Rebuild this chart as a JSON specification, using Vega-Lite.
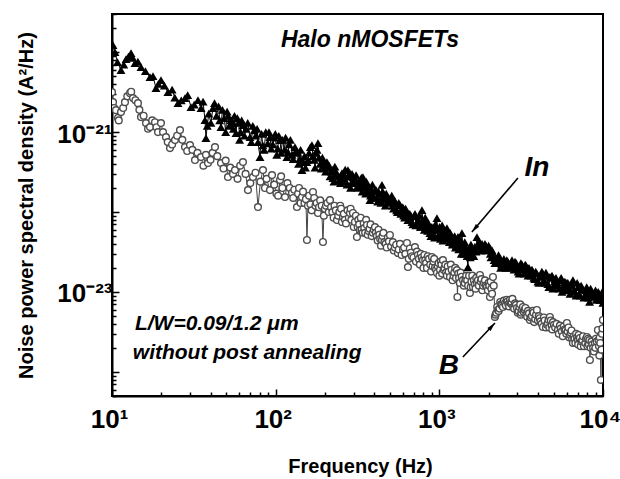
{
  "$schema": "https://vega.github.io/schema/vega-lite/v6.json",
  "width": 491,
  "height": 382,
  "autosize": {"type": "none"},
  "padding": {"left": 112, "top": 14, "right": 17, "bottom": 83},
  "background": "white",
  "config": {"view": {"stroke": "black", "strokeWidth": 2}, "font": "Liberation Sans"},
  "datasets": {
    "In": [
      {"f":10.14,"p":1.22e-20},{"f":10.43,"p":1.0e-20},{"f":10.8,"p":7.5e-21},{"f":11.35,"p":5.96e-21},{"f":11.8,"p":7.0e-21},{"f":12.18,"p":8.18e-21},{"f":12.6,"p":8.8e-21},{"f":13.07,"p":9.72e-21},{"f":13.4,"p":8.5e-21},{"f":13.82,"p":7.29e-21},{"f":14.4,"p":7.6e-21},{"f":15.04,"p":6.49e-21},{"f":16.0,"p":5.8e-21},{"f":17.07,"p":4.87e-21},{"f":17.8,"p":5.0e-21},{"f":18.57,"p":3.55e-21},{"f":19.2,"p":4.0e-21},{"f":19.92,"p":4.47e-21},{"f":20.9,"p":3.8e-21},{"f":21.98,"p":3.16e-21},{"f":23.3,"p":3.4e-21},{"f":24.2,"p":2.7e-21},{"f":25.31,"p":2.3e-21},{"f":26.5,"p":2.5e-21},{"f":27.92,"p":2.66e-21},{"f":29.0,"p":2.9e-21},{"f":30.38,"p":2.05e-21},{"f":31.8,"p":2.2e-21},{"f":33.52,"p":2.51e-21},{"f":35.0,"p":2.0e-21},{"f":36,"p":2.4e-21},{"f":37.0,"p":1.41e-21},{"f":37.5,"p":8.4e-22},{"f":38.2,"p":1.2e-21},{"f":39.0,"p":1.7e-21},{"f":40.2,"p":1.3e-21},{"f":41.4,"p":2.0e-21},{"f":42.3,"p":2.3e-21},{"f":43.5,"p":1.6e-21},{"f":44.8,"p":2.1e-21},{"f":45.5,"p":1.4e-21},{"f":46.33,"p":1.155e-21},{"f":47.3,"p":1.9e-21},{"f":48.5,"p":1.5e-21},{"f":49.5,"p":1.0e-21},{"f":50.5,"p":1.8e-21},{"f":51.2,"p":1.6e-21},{"f":52.0,"p":1.2e-21},{"f":53.33,"p":1.41e-21},{"f":54.86,"p":1.296e-21},{"f":55.2,"p":1.1e-21},{"f":56.0,"p":1.6e-21},{"f":57.22,"p":9.72e-22},{"f":58.3,"p":1.5e-21},{"f":59.5,"p":1.3e-21},{"f":60.2,"p":8.0e-22},{"f":61.0,"p":1.0e-21},{"f":62,"p":1.4e-21},{"f":63.13,"p":1.223e-21},{"f":64.5,"p":9.0e-22},{"f":66.0,"p":1.1e-21},{"f":67.5,"p":1.3e-21},{"f":69.66,"p":8.66e-22},{"f":71,"p":7.5e-22},{"f":72.5,"p":1.2e-21},{"f":74,"p":1.05e-21},{"f":75.5,"p":9.0e-22},{"f":77,"p":1.1e-21},{"f":78.0,"p":7.5e-22},{"f":80.19,"p":4.87e-22},{"f":82,"p":9.5e-22},{"f":83.5,"p":6.8e-22},{"f":85,"p":6.0e-22},{"f":87.0,"p":1.0e-21},{"f":89.5,"p":7.2e-22},{"f":91,"p":1.0e-21},{"f":92.31,"p":8.66e-22},{"f":94,"p":6.2e-22},{"f":96.0,"p":7.0e-22},{"f":98,"p":8.5e-22},{"f":99.5,"p":9.5e-22},{"f":101.5,"p":5.2e-22},{"f":103,"p":6.2e-22},{"f":104.5,"p":9.0e-22},{"f":106.3,"p":7.94e-22},{"f":108,"p":5.5e-22},{"f":110,"p":8.0e-22},{"f":113,"p":6.0e-22},{"f":115,"p":8.5e-22},{"f":117.2,"p":4.87e-22},{"f":119,"p":5.6e-22},{"f":121,"p":7.0e-22},{"f":123,"p":8.0e-22},{"f":126,"p":5.2e-22},{"f":128,"p":4.6e-22},{"f":131.2,"p":6.49e-22},{"f":133,"p":5.8e-22},{"f":136,"p":5.5e-22},{"f":138,"p":4.0e-22},{"f":140,"p":4.6e-22},{"f":142,"p":6.0e-22},{"f":144.8,"p":3.35e-22},{"f":147,"p":4.2e-22},{"f":150,"p":5.0e-22},{"f":152,"p":3.6e-22},{"f":155,"p":4.2e-22},{"f":158,"p":4.5e-22},{"f":160,"p":5.5e-22},{"f":163,"p":6.5e-22},{"f":166.6,"p":6.88e-22},{"f":169,"p":5.0e-22},{"f":172,"p":4.5e-22},{"f":174,"p":3.6e-22},{"f":176,"p":5.5e-22},{"f":179,"p":6.0e-22},{"f":181.3,"p":7.29e-22},{"f":184,"p":4.8e-22},{"f":187,"p":4.0e-22},{"f":190,"p":3.5e-22},{"f":193,"p":4.8e-22},{"f":196,"p":4.2e-22},{"f":199,"p":3.6e-22},{"f":202,"p":3.2e-22},{"f":205.8,"p":4.22e-22},{"f":209,"p":3.6e-22},{"f":212,"p":3.8e-22},{"f":215,"p":2.8e-22},{"f":218,"p":3.2e-22},{"f":221,"p":3.4e-22},{"f":223.9,"p":2.66e-22},{"f":227,"p":2.4e-22},{"f":230,"p":3.7e-22},{"f":233,"p":3.2e-22},{"f":237,"p":3.0e-22},{"f":241,"p":2.8e-22},{"f":245,"p":2.5e-22},{"f":249,"p":2.3e-22},{"f":254.1,"p":3.07e-22},{"f":258,"p":2.6e-22},{"f":262,"p":2.9e-22},{"f":266,"p":3.4e-22},{"f":269,"p":2.4e-22},{"f":273,"p":2.2e-22},{"f":276.4,"p":3.35e-22},{"f":280,"p":2.8e-22},{"f":283,"p":3.1e-22},{"f":287,"p":2.0e-22},{"f":290,"p":2.3e-22},{"f":293,"p":3.0e-22},{"f":296.6,"p":2.74e-22},{"f":300,"p":2.3e-22},{"f":305,"p":2.6e-22},{"f":310,"p":2.9e-22},{"f":313.7,"p":2.05e-22},{"f":317,"p":2.0e-22},{"f":320,"p":2.4e-22},{"f":327,"p":2.1e-22},{"f":330,"p":2.3e-22},{"f":334,"p":2.7e-22},{"f":338,"p":1.8e-22},{"f":341.5,"p":2.74e-22},{"f":345,"p":2.3e-22},{"f":350,"p":2.0e-22},{"f":355,"p":1.7e-22},{"f":358,"p":2.4e-22},{"f":362,"p":2.2e-22},{"f":367,"p":1.8e-22},{"f":372,"p":1.9e-22},{"f":376.7,"p":1.41e-22},{"f":380,"p":1.6e-22},{"f":385,"p":1.9e-22},{"f":390,"p":2.2e-22},{"f":394,"p":1.6e-22},{"f":399,"p":1.5e-22},{"f":404.3,"p":1.88e-22},{"f":410,"p":1.9e-22},{"f":415,"p":1.5e-22},{"f":420,"p":1.35e-22},{"f":425,"p":1.8e-22},{"f":430,"p":1.7e-22},{"f":435,"p":1.4e-22},{"f":440,"p":1.3e-22},{"f":446,"p":2.18e-22},{"f":451,"p":1.8e-22},{"f":457,"p":1.6e-22},{"f":462,"p":1.45e-22},{"f":468,"p":1.2e-22},{"f":474,"p":1.7e-22},{"f":480,"p":1.5e-22},{"f":488,"p":1.3e-22},{"f":499,"p":1.33e-22},{"f":505,"p":1.45e-22},{"f":512,"p":1.6e-22},{"f":518,"p":1.2e-22},{"f":525,"p":1.1e-22},{"f":532,"p":1.4e-22},{"f":540,"p":1.3e-22},{"f":548,"p":1.05e-22},{"f":555,"p":1.0e-22},{"f":565,"p":1.3e-22},{"f":574.5,"p":1.22e-22},{"f":582,"p":9.5e-23},{"f":590,"p":1.05e-22},{"f":598,"p":1.15e-22},{"f":605,"p":9.0e-23},{"f":614,"p":8.5e-23},{"f":622,"p":1.1e-22},{"f":632,"p":1.0e-22},{"f":642.9,"p":7.94e-23},{"f":651,"p":8.0e-23},{"f":660,"p":9.5e-23},{"f":670,"p":9.0e-23},{"f":680,"p":7.5e-23},{"f":690,"p":7.0e-23},{"f":700,"p":8.8e-23},{"f":710,"p":9.5e-23},{"f":720,"p":6.8e-23},{"f":730,"p":7.5e-23},{"f":745,"p":8.0e-23},{"f":755,"p":9.0e-23},{"f":765,"p":6.5e-23},{"f":775,"p":6.5e-23},{"f":783.1,"p":1.06e-22},{"f":792,"p":8.0e-23},{"f":800,"p":7.0e-23},{"f":810,"p":6.0e-23},{"f":820,"p":8.5e-23},{"f":830,"p":7.5e-23},{"f":840,"p":6.2e-23},{"f":848,"p":5.8e-23},{"f":858,"p":7.2e-23},{"f":867,"p":6.8e-23},{"f":876.2,"p":5.46e-23},{"f":888,"p":5.0e-23},{"f":900,"p":6.5e-23},{"f":912,"p":6.0e-23},{"f":925,"p":5.2e-23},{"f":935,"p":4.8e-23},{"f":945,"p":7.0e-23},{"f":955,"p":6.2e-23},{"f":966.8,"p":8.41e-23},{"f":978,"p":5.0e-23},{"f":990,"p":6.0e-23},{"f":1003,"p":6.5e-23},{"f":1015,"p":4.6e-23},{"f":1027,"p":5.4e-23},{"f":1040,"p":6.8e-23},{"f":1052,"p":4.4e-23},{"f":1065,"p":5.0e-23},{"f":1078,"p":6.0e-23},{"f":1090,"p":5.8e-23},{"f":1102,"p":4.6e-23},{"f":1113,"p":6.31e-23},{"f":1127,"p":5.2e-23},{"f":1140,"p":4.8e-23},{"f":1152,"p":4.2e-23},{"f":1165,"p":5.5e-23},{"f":1178,"p":5.0e-23},{"f":1190,"p":4.5e-23},{"f":1200,"p":3.9e-23},{"f":1211,"p":4.1e-23},{"f":1225,"p":4.6e-23},{"f":1240,"p":5.0e-23},{"f":1255,"p":3.6e-23},{"f":1270,"p":3.8e-23},{"f":1285,"p":4.4e-23},{"f":1300,"p":4.9e-23},{"f":1315,"p":3.4e-23},{"f":1330,"p":3.6e-23},{"f":1340,"p":3.9e-23},{"f":1350,"p":4.4e-23},{"f":1362,"p":3.0e-23},{"f":1374,"p":5.46e-23},{"f":1387,"p":4.0e-23},{"f":1400,"p":3.5e-23},{"f":1415,"p":3.0e-23},{"f":1430,"p":4.2e-23},{"f":1445,"p":3.7e-23},{"f":1460,"p":3.2e-23},{"f":1478,"p":2.8e-23},{"f":1495,"p":2.05e-23},{"f":1512,"p":3.4e-23},{"f":1530,"p":3.0e-23},{"f":1545,"p":2.7e-23},{"f":1560,"p":3.9e-23},{"f":1580,"p":3.3e-23},{"f":1604,"p":3.35e-23},{"f":1625,"p":2.8e-23},{"f":1650,"p":3.7e-23},{"f":1675,"p":3.2e-23},{"f":1697,"p":4.87e-23},{"f":1720,"p":3.7e-23},{"f":1750,"p":4.2e-23},{"f":1775,"p":3.3e-23},{"f":1800,"p":3.9e-23},{"f":1825,"p":4.0e-23},{"f":1847,"p":3.65e-23},{"f":1875,"p":3.4e-23},{"f":1900,"p":4.0e-23},{"f":1925,"p":3.8e-23},{"f":1950,"p":3.3e-23},{"f":1975,"p":3.5e-23},{"f":2000,"p":3.8e-23},{"f":2025,"p":3.6e-23},{"f":2050,"p":3.0e-23},{"f":2070,"p":2.7e-23},{"f":2096,"p":3.35e-23},{"f":2118,"p":3.1e-23},{"f":2140,"p":2.8e-23},{"f":2160,"p":2.5e-23},{"f":2186,"p":2.3e-23},{"f":2215,"p":2.5e-23},{"f":2250,"p":2.6e-23},{"f":2275,"p":2.3e-23},{"f":2300,"p":2.9e-23},{"f":2325,"p":2.7e-23},{"f":2346,"p":2.37e-23},{"f":2370,"p":2.0e-23},{"f":2400,"p":2.2e-23},{"f":2440,"p":2.4e-23},{"f":2480,"p":2.6e-23},{"f":2515,"p":2.2e-23},{"f":2550,"p":2.0e-23},{"f":2585,"p":2.5e-23},{"f":2620,"p":2.4e-23},{"f":2660,"p":2.0e-23},{"f":2700,"p":2.18e-23},{"f":2740,"p":2.3e-23},{"f":2780,"p":2.5e-23},{"f":2820,"p":2.1e-23},{"f":2860,"p":1.9e-23},{"f":2900,"p":2.4e-23},{"f":2950,"p":2.3e-23},{"f":2990,"p":2.0e-23},{"f":3030,"p":1.8e-23},{"f":3070,"p":1.7e-23},{"f":3107,"p":2.05e-23},{"f":3150,"p":2.3e-23},{"f":3200,"p":2.2e-23},{"f":3250,"p":1.9e-23},{"f":3300,"p":1.7e-23},{"f":3350,"p":2.2e-23},{"f":3400,"p":2.1e-23},{"f":3440,"p":1.75e-23},{"f":3480,"p":1.6e-23},{"f":3530,"p":2.0e-23},{"f":3576,"p":1.73e-23},{"f":3630,"p":1.6e-23},{"f":3680,"p":1.9e-23},{"f":3730,"p":1.8e-23},{"f":3780,"p":1.5e-23},{"f":3830,"p":1.45e-23},{"f":3880,"p":1.8e-23},{"f":3940,"p":1.7e-23},{"f":4000,"p":1.35e-23},{"f":4060,"p":1.3e-23},{"f":4116,"p":1.54e-23},{"f":4170,"p":1.6e-23},{"f":4230,"p":1.8e-23},{"f":4290,"p":1.7e-23},{"f":4350,"p":1.4e-23},{"f":4420,"p":1.3e-23},{"f":4480,"p":1.75e-23},{"f":4540,"p":1.6e-23},{"f":4600,"p":1.25e-23},{"f":4670,"p":1.15e-23},{"f":4738,"p":1.54e-23},{"f":4800,"p":1.5e-23},{"f":4880,"p":1.6e-23},{"f":4940,"p":1.1e-23},{"f":5000,"p":1.2e-23},{"f":5050,"p":1.35e-23},{"f":5100,"p":1.45e-23},{"f":5160,"p":1.5e-23},{"f":5229,"p":1.33e-23},{"f":5300,"p":1.2e-23},{"f":5380,"p":1.1e-23},{"f":5460,"p":1.4e-23},{"f":5550,"p":1.5e-23},{"f":5620,"p":1.0e-23},{"f":5700,"p":1.15e-23},{"f":5780,"p":1.25e-23},{"f":5850,"p":1.35e-23},{"f":5930,"p":1.05e-23},{"f":6018,"p":1.3e-23},{"f":6100,"p":1.3e-23},{"f":6200,"p":1.1e-23},{"f":6290,"p":9.5e-24},{"f":6380,"p":1.25e-23},{"f":6460,"p":1.2e-23},{"f":6548,"p":1.41e-23},{"f":6650,"p":1.05e-23},{"f":6750,"p":1.0e-23},{"f":6850,"p":9.0e-24},{"f":6950,"p":1.3e-23},{"f":7050,"p":1.15e-23},{"f":7150,"p":9.5e-24},{"f":7250,"p":9.0e-24},{"f":7350,"p":1.2e-23},{"f":7450,"p":1.1e-23},{"f":7538,"p":1.06e-23},{"f":7650,"p":8.5e-24},{"f":7750,"p":9.0e-24},{"f":7850,"p":1.05e-23},{"f":7950,"p":1.15e-23},{"f":8050,"p":9.5e-24},{"f":8150,"p":8.5e-24},{"f":8280,"p":7.5e-24},{"f":8400,"p":1.1e-23},{"f":8530,"p":1.0e-23},{"f":8676,"p":8.66e-24},{"f":8780,"p":9.0e-24},{"f":8900,"p":9.5e-24},{"f":9000,"p":1.05e-23},{"f":9100,"p":8.0e-24},{"f":9230,"p":8.0e-24},{"f":9350,"p":1.0e-23},{"f":9460,"p":9.5e-24},{"f":9572,"p":7.94e-24},{"f":9690,"p":8.5e-24},{"f":9800,"p":9.0e-24},{"f":9900,"p":1.0e-23},{"f":9986,"p":7.29e-24}
    ],
    "B": [
      {"f":10.0,"p":3.16e-21},{"f":10.14,"p":2.37e-21},{"f":10.3,"p":2.0e-21},{"f":10.58,"p":1.88e-21},{"f":10.88,"p":1.5e-21},{"f":11.0,"p":1.4e-21},{"f":11.35,"p":1.78e-21},{"f":11.7,"p":2.0e-21},{"f":12.0,"p":2.37e-21},{"f":12.4,"p":2.8e-21},{"f":12.89,"p":3.07e-21},{"f":13.1,"p":3.2e-21},{"f":13.44,"p":2.66e-21},{"f":13.9,"p":2.5e-21},{"f":14.41,"p":2.3e-21},{"f":14.7,"p":1.9e-21},{"f":15.04,"p":1.54e-21},{"f":15.6,"p":1.6e-21},{"f":16.13,"p":1.296e-21},{"f":16.6,"p":1.1e-21},{"f":17.07,"p":1.155e-21},{"f":17.6,"p":1.4e-21},{"f":18.31,"p":1.33e-21},{"f":18.7,"p":1.15e-21},{"f":19.1,"p":1.0e-21},{"f":19.92,"p":1.296e-21},{"f":20.5,"p":1.0e-21},{"f":21.37,"p":8.66e-22},{"f":21.9,"p":7.5e-22},{"f":22.61,"p":6.31e-22},{"f":23.3,"p":7.0e-22},{"f":24.26,"p":7.94e-22},{"f":25.0,"p":9.0e-22},{"f":26.03,"p":1.06e-21},{"f":26.9,"p":8.0e-22},{"f":27.92,"p":6.49e-22},{"f":28.8,"p":5.8e-22},{"f":29.96,"p":6.88e-22},{"f":31.0,"p":6.0e-22},{"f":32.14,"p":4.47e-22},{"f":33.3,"p":5.5e-22},{"f":34.98,"p":4.87e-22},{"f":36.2,"p":3.8e-22},{"f":37.5,"p":5.2e-22},{"f":38.59,"p":4.1e-22},{"f":40.0,"p":4.5e-22},{"f":41.2,"p":5.5e-22},{"f":42.58,"p":6.49e-22},{"f":44.0,"p":5.0e-22},{"f":46.33,"p":4.1e-22},{"f":48.0,"p":3.5e-22},{"f":49.5,"p":4.4e-22},{"f":51.12,"p":2.74e-22},{"f":52.8,"p":3.6e-22},{"f":54.86,"p":3.0e-22},{"f":56.42,"p":3.35e-22},{"f":58.5,"p":2.6e-22},{"f":60.7,"p":3.8e-22},{"f":63.13,"p":4.22e-22},{"f":65.5,"p":3.0e-22},{"f":67.72,"p":1.88e-22},{"f":70.0,"p":2.3e-22},{"f":72.67,"p":2.74e-22},{"f":75.3,"p":3.1e-22},{"f":77.96,"p":1.155e-22},{"f":80.7,"p":2.4e-22},{"f":83.65,"p":3.35e-22},{"f":86.0,"p":2.0e-22},{"f":88,"p":2.6e-22},{"f":92.31,"p":1.88e-22},{"f":95.0,"p":2.9e-22},{"f":98,"p":2.2e-22},{"f":101,"p":1.7e-22},{"f":103.5,"p":1.6e-22},{"f":106.3,"p":2.51e-22},{"f":108,"p":2.8e-22},{"f":110,"p":2.0e-22},{"f":114,"p":1.54e-22},{"f":118,"p":2.3e-22},{"f":122,"p":2.0e-22},{"f":125.8,"p":1.73e-22},{"f":128,"p":1.5e-22},{"f":130,"p":1.9e-22},{"f":134.9,"p":1.155e-22},{"f":137,"p":1.7e-22},{"f":139,"p":2.0e-22},{"f":142,"p":1.3e-22},{"f":144.8,"p":1.54e-22},{"f":147,"p":1.8e-22},{"f":150,"p":1.3e-22},{"f":153,"p":1.45e-22},{"f":155.3,"p":4.47e-23},{"f":157.5,"p":1.2e-22},{"f":160,"p":1.6e-22},{"f":163,"p":1.25e-22},{"f":166,"p":1.05e-22},{"f":169,"p":1.78e-22},{"f":172,"p":1.5e-22},{"f":175,"p":1.2e-22},{"f":178,"p":1.3e-22},{"f":181.3,"p":9.72e-23},{"f":184,"p":1.15e-22},{"f":187,"p":1.4e-22},{"f":191,"p":1.2e-22},{"f":194.5,"p":4.22e-23},{"f":197,"p":9.0e-23},{"f":200,"p":1.1e-22},{"f":203,"p":1.2e-22},{"f":207,"p":1.3e-22},{"f":211,"p":1.0e-22},{"f":214.7,"p":1.41e-22},{"f":218,"p":1.15e-22},{"f":222,"p":1.0e-22},{"f":226,"p":8.5e-23},{"f":229,"p":1.2e-22},{"f":233,"p":1.05e-22},{"f":236.9,"p":7.94e-23},{"f":241,"p":9.0e-23},{"f":245,"p":1.0e-22},{"f":248,"p":1.2e-22},{"f":251,"p":1.1e-22},{"f":254,"p":7.5e-23},{"f":257.7,"p":8.66e-23},{"f":261,"p":9.5e-23},{"f":265,"p":8.0e-23},{"f":269,"p":7.2e-23},{"f":275,"p":1.05e-22},{"f":280,"p":8.5e-23},{"f":284.4,"p":9.72e-23},{"f":287,"p":1.1e-22},{"f":290,"p":8.0e-23},{"f":296.6,"p":9.72e-23},{"f":300,"p":6.5e-23},{"f":305,"p":7.5e-23},{"f":309,"p":9.0e-23},{"f":313.7,"p":4.87e-23},{"f":317,"p":6.5e-23},{"f":320,"p":8.0e-23},{"f":324,"p":7.0e-23},{"f":327.3,"p":5.96e-23},{"f":331,"p":8.5e-23},{"f":335,"p":6.0e-23},{"f":340,"p":5.5e-23},{"f":345,"p":7.2e-23},{"f":348,"p":6.3e-23},{"f":352,"p":5.5e-23},{"f":357,"p":8.0e-23},{"f":361.2,"p":6.88e-23},{"f":365,"p":5.2e-23},{"f":370,"p":5.8e-23},{"f":375,"p":6.2e-23},{"f":380,"p":7.0e-23},{"f":386,"p":5.0e-23},{"f":392,"p":5.5e-23},{"f":398,"p":6.0e-23},{"f":404.3,"p":6.49e-23},{"f":409,"p":5.5e-23},{"f":415,"p":5.0e-23},{"f":420,"p":4.4e-23},{"f":425,"p":6.0e-23},{"f":430,"p":5.2e-23},{"f":435,"p":4.6e-23},{"f":440,"p":3.8e-23},{"f":446,"p":4.47e-23},{"f":450,"p":5.0e-23},{"f":455,"p":5.5e-23},{"f":462,"p":4.2e-23},{"f":470,"p":4.0e-23},{"f":477,"p":3.6e-23},{"f":485,"p":4.8e-23},{"f":492,"p":4.3e-23},{"f":499,"p":5.16e-23},{"f":507,"p":3.7e-23},{"f":520,"p":4.2e-23},{"f":527,"p":3.3e-23},{"f":535,"p":3.6e-23},{"f":545,"p":3.9e-23},{"f":558.6,"p":3.07e-23},{"f":565,"p":3.4e-23},{"f":575,"p":4.0e-23},{"f":588,"p":2.9e-23},{"f":600,"p":3.4e-23},{"f":610,"p":3.6e-23},{"f":620,"p":3.0e-23},{"f":634.1,"p":4.1e-23},{"f":642.9,"p":2.05e-23},{"f":650,"p":2.6e-23},{"f":660,"p":3.5e-23},{"f":670,"p":3.1e-23},{"f":680,"p":2.8e-23},{"f":695,"p":2.7e-23},{"f":709.6,"p":3.65e-23},{"f":720,"p":2.4e-23},{"f":730,"p":3.2e-23},{"f":740,"p":2.9e-23},{"f":750,"p":2.6e-23},{"f":760,"p":2.2e-23},{"f":770,"p":3.0e-23},{"f":780,"p":2.7e-23},{"f":793.6,"p":2.51e-23},{"f":800,"p":2.0e-23},{"f":810,"p":2.9e-23},{"f":820,"p":2.5e-23},{"f":830,"p":2.3e-23},{"f":840,"p":2.0e-23},{"f":850,"p":2.8e-23},{"f":865,"p":2.6e-23},{"f":880,"p":2.2e-23},{"f":890,"p":1.8e-23},{"f":901,"p":2.74e-23},{"f":910,"p":2.1e-23},{"f":920,"p":2.4e-23},{"f":930,"p":2.6e-23},{"f":940,"p":2.0e-23},{"f":955,"p":1.9e-23},{"f":966.8,"p":1.73e-23},{"f":978,"p":2.1e-23},{"f":990,"p":2.3e-23},{"f":1000,"p":1.6e-23},{"f":1010,"p":1.9e-23},{"f":1020,"p":2.4e-23},{"f":1030,"p":2.2e-23},{"f":1040,"p":1.7e-23},{"f":1052,"p":2.51e-23},{"f":1063,"p":1.9e-23},{"f":1075,"p":2.0e-23},{"f":1088,"p":2.2e-23},{"f":1100,"p":1.75e-23},{"f":1112,"p":1.6e-23},{"f":1125,"p":2.1e-23},{"f":1140,"p":1.8e-23},{"f":1161,"p":1.54e-23},{"f":1175,"p":2.2e-23},{"f":1190,"p":1.9e-23},{"f":1205,"p":1.4e-23},{"f":1220,"p":1.6e-23},{"f":1235,"p":1.75e-23},{"f":1250,"p":2.0e-23},{"f":1265,"p":1.5e-23},{"f":1281,"p":1.88e-23},{"f":1290,"p":8.66e-24},{"f":1305,"p":1.7e-23},{"f":1320,"p":1.5e-23},{"f":1335,"p":1.3e-23},{"f":1350,"p":1.75e-23},{"f":1370,"p":1.55e-23},{"f":1394,"p":1.41e-23},{"f":1412,"p":1.2e-23},{"f":1430,"p":1.3e-23},{"f":1445,"p":1.45e-23},{"f":1460,"p":1.6e-23},{"f":1480,"p":1.4e-23},{"f":1500,"p":1.2e-23},{"f":1520,"p":1.6e-23},{"f":1538,"p":9.72e-24},{"f":1555,"p":1.15e-23},{"f":1570,"p":1.35e-23},{"f":1590,"p":1.6e-23},{"f":1604,"p":1.155e-23},{"f":1625,"p":1.4e-23},{"f":1650,"p":1.25e-23},{"f":1665,"p":1.1e-23},{"f":1680,"p":1.5e-23},{"f":1700,"p":1.3e-23},{"f":1721,"p":1.41e-23},{"f":1745,"p":1.2e-23},{"f":1770,"p":1.63e-23},{"f":1790,"p":1.35e-23},{"f":1810,"p":1.45e-23},{"f":1830,"p":1.05e-23},{"f":1850,"p":1.2e-23},{"f":1875,"p":1.3e-23},{"f":1900,"p":1.4e-23},{"f":1925,"p":1.2e-23},{"f":1954,"p":1.155e-23},{"f":1980,"p":1.05e-23},{"f":2000,"p":1.3e-23},{"f":2020,"p":1.2e-23},{"f":2038,"p":8.66e-24},{"f":2060,"p":1.35e-23},{"f":2080,"p":1.1e-23},{"f":2100,"p":9.5e-24},{"f":2126,"p":1.54e-23},{"f":2150,"p":1.2e-23},{"f":2186,"p":4.87e-24},{"f":2205,"p":5.2e-24},{"f":2230,"p":5.5e-24},{"f":2255,"p":6.5e-24},{"f":2280,"p":5.96e-24},{"f":2305,"p":5.8e-24},{"f":2330,"p":6.2e-24},{"f":2355,"p":7.5e-24},{"f":2380,"p":7.0e-24},{"f":2410,"p":6.8e-24},{"f":2446,"p":6.49e-24},{"f":2480,"p":7.8e-24},{"f":2520,"p":7.2e-24},{"f":2550,"p":6.8e-24},{"f":2580,"p":8.0e-24},{"f":2610,"p":7.6e-24},{"f":2640,"p":7.0e-24},{"f":2670,"p":6.6e-24},{"f":2700,"p":7.94e-24},{"f":2730,"p":7.2e-24},{"f":2760,"p":7.5e-24},{"f":2795,"p":8.2e-24},{"f":2830,"p":6.5e-24},{"f":2865,"p":6.2e-24},{"f":2900,"p":7.2e-24},{"f":2940,"p":6.9e-24},{"f":2979,"p":6.31e-24},{"f":3015,"p":5.5e-24},{"f":3050,"p":5.8e-24},{"f":3085,"p":6.5e-24},{"f":3120,"p":7.0e-24},{"f":3145,"p":5.2e-24},{"f":3170,"p":5.5e-24},{"f":3205,"p":6.0e-24},{"f":3241,"p":6.49e-24},{"f":3280,"p":5.6e-24},{"f":3320,"p":6.0e-24},{"f":3360,"p":6.3e-24},{"f":3400,"p":5.2e-24},{"f":3440,"p":4.9e-24},{"f":3480,"p":5.8e-24},{"f":3530,"p":5.4e-24},{"f":3576,"p":4.47e-24},{"f":3620,"p":4.8e-24},{"f":3680,"p":5.0e-24},{"f":3720,"p":5.8e-24},{"f":3760,"p":5.5e-24},{"f":3800,"p":4.2e-24},{"f":3850,"p":4.6e-24},{"f":3900,"p":5.2e-24},{"f":3947,"p":5.96e-24},{"f":4000,"p":4.4e-24},{"f":4050,"p":5.0e-24},{"f":4100,"p":4.7e-24},{"f":4150,"p":4.3e-24},{"f":4220,"p":4.0e-24},{"f":4294,"p":3.65e-24},{"f":4350,"p":4.8e-24},{"f":4400,"p":4.4e-24},{"f":4480,"p":3.6e-24},{"f":4550,"p":3.9e-24},{"f":4600,"p":4.1e-24},{"f":4650,"p":4.5e-24},{"f":4700,"p":3.6e-24},{"f":4738,"p":4.87e-24},{"f":4800,"p":4.4e-24},{"f":4850,"p":3.8e-24},{"f":4900,"p":3.4e-24},{"f":4950,"p":4.2e-24},{"f":5020,"p":3.9e-24},{"f":5100,"p":3.6e-24},{"f":5200,"p":4.0e-24},{"f":5303,"p":3.35e-24},{"f":5370,"p":3.0e-24},{"f":5450,"p":3.8e-24},{"f":5520,"p":3.5e-24},{"f":5600,"p":3.2e-24},{"f":5680,"p":2.8e-24},{"f":5750,"p":3.7e-24},{"f":5820,"p":3.4e-24},{"f":5900,"p":3.3e-24},{"f":5970,"p":3.0e-24},{"f":6018,"p":4.1e-24},{"f":6080,"p":3.2e-24},{"f":6150,"p":3.6e-24},{"f":6230,"p":2.7e-24},{"f":6300,"p":2.9e-24},{"f":6360,"p":3.1e-24},{"f":6420,"p":3.3e-24},{"f":6480,"p":2.6e-24},{"f":6548,"p":2.3e-24},{"f":6620,"p":2.8e-24},{"f":6700,"p":2.6e-24},{"f":6780,"p":2.3e-24},{"f":6850,"p":3.0e-24},{"f":6930,"p":2.7e-24},{"f":7000,"p":2.5e-24},{"f":7050,"p":2.2e-24},{"f":7100,"p":2.9e-24},{"f":7170,"p":2.6e-24},{"f":7226,"p":2.66e-24},{"f":7310,"p":2.1e-24},{"f":7400,"p":2.4e-24},{"f":7480,"p":2.5e-24},{"f":7550,"p":2.8e-24},{"f":7650,"p":2.1e-24},{"f":7800,"p":2.3e-24},{"f":7880,"p":2.6e-24},{"f":7973,"p":2.74e-24},{"f":8040,"p":2.1e-24},{"f":8100,"p":2.6e-24},{"f":8200,"p":2.2e-24},{"f":8260,"p":2.5e-24},{"f":8318,"p":1.41e-24},{"f":8400,"p":2.0e-24},{"f":8500,"p":2.4e-24},{"f":8600,"p":2.2e-24},{"f":8700,"p":2.0e-24},{"f":8800,"p":1.8e-24},{"f":8925,"p":2.3e-24},{"f":8980,"p":2.0e-24},{"f":9050,"p":2.6e-24},{"f":9150,"p":2.4e-24},{"f":9310,"p":3.35e-24},{"f":9380,"p":2.5e-24},{"f":9450,"p":2.1e-24},{"f":9500,"p":1.6e-24},{"f":9550,"p":2.7e-24},{"f":9620,"p":2.3e-24},{"f":9710,"p":7.94e-25},{"f":9780,"p":1.9e-24},{"f":9850,"p":3.0e-24},{"f":9920,"p":3.5e-24},{"f":9986,"p":4.47e-24}
    ],
    "arrows": [
      {"name":"In","f":3020,"p":2.66e-22,"f2":1581,"p2":5.62e-23},
      {"name":"B","f":1393,"p":1.54e-24,"f2":2188,"p2":4.1e-24}
    ]
  },
  "encoding": {
    "x": {
      "field": "f", "type": "quantitative",
      "scale": {"type": "log", "domain": [10, 10000], "nice": false},
      "axis": {
        "values": [10,20,30,40,50,60,70,80,90,100,200,300,400,500,600,700,800,900,1000,2000,3000,4000,5000,6000,7000,8000,9000,10000],
        "labelExpr": "abs(log(datum.value)/LN10 - round(log(datum.value)/LN10)) < 0.001 ? '10' + ['⁰','¹','²','³','⁴'][round(log(datum.value)/LN10)] : ''",
        "labelFont": "Liberation Sans", "labelFontSize": 26, "labelFontWeight": "bold", "labelColor": "black",
        "labelFlush": false, "labelOverlap": false, "labelBaseline": "top", "labelPadding": 17, "labelOffset": -3,
        "tickColor": "black", "tickWidth": 1.5,
        "tickSize": {"condition": {"test": "abs(log(datum.value)/LN10 - round(log(datum.value)/LN10)) < 0.001", "value": -7}, "value": -4},
        "domainColor": "black", "domainWidth": 2, "grid": false,
        "title": "Frequency (Hz)", "titleFont": "Liberation Sans", "titleFontSize": 20, "titleFontWeight": "bold", "titleColor": "black",
        "titleX": 248, "titleY": 70, "titleBaseline": "middle", "titleAlign": "center"
      }
    },
    "y": {
      "field": "p", "type": "quantitative",
      "scale": {"type": "log", "domain": [5e-25, 3e-20], "nice": false},
      "axis": {
        "values": [5e-25,6e-25,7e-25,8e-25,9e-25,1e-24,2e-24,3e-24,4e-24,5e-24,6e-24,7e-24,8e-24,9e-24,1e-23,2e-23,3e-23,4e-23,5e-23,6e-23,7e-23,8e-23,9e-23,1e-22,2e-22,3e-22,4e-22,5e-22,6e-22,7e-22,8e-22,9e-22,1e-21,2e-21,3e-21,4e-21,5e-21,6e-21,7e-21,8e-21,9e-21,1e-20,2e-20,3e-20],
        "labelExpr": "abs(log(datum.value)/LN10 + 21) < 0.001 ? '10⁻²¹' : (abs(log(datum.value)/LN10 + 23) < 0.001 ? '10⁻²³' : '')",
        "labelFont": "Liberation Sans", "labelFontSize": 26, "labelFontWeight": "bold", "labelColor": "black",
        "labelFlush": false, "labelOverlap": false, "labelPadding": 7, "labelBaseline": "middle", "labelOffset": 2,
        "tickColor": "black", "tickWidth": 1.5,
        "tickSize": {"condition": {"test": "abs(log(datum.value)/LN10 - round(log(datum.value)/LN10)) < 0.001", "value": -7}, "value": -4},
        "domainColor": "black", "domainWidth": 2, "grid": false,
        "title": "Noise power spectral density (A²/Hz)", "titleFont": "Liberation Sans", "titleFontSize": 20, "titleFontWeight": "bold", "titleColor": "black",
        "titleX": -86, "titleY": 191, "titleAngle": 270, "titleBaseline": "middle", "titleAlign": "center"
      }
    }
  },
  "layer": [
    {"data": {"name": "B"}, "mark": {"type": "line", "color": "#444444", "strokeWidth": 1, "clip": true}},
    {"data": {"name": "B"}, "mark": {"type": "point", "shape": "circle", "filled": true, "fill": "white", "stroke": "#4d4d4d", "strokeWidth": 1.4, "size": 45, "opacity": 1, "clip": true}},
    {"data": {"name": "In"}, "mark": {"type": "line", "color": "black", "strokeWidth": 1, "clip": true}},
    {"data": {"name": "In"}, "mark": {"type": "point", "shape": "triangle-up", "filled": true, "color": "black", "size": 80, "opacity": 1, "clip": true}},
    {"data": {"name": "arrows"}, "mark": {"type": "rule", "color": "black", "strokeWidth": 1.6},
     "encoding": {"x2": {"field": "f2"}, "y2": {"field": "p2"}}},
    {"data": {"name": "arrows"}, "transform": [{"filter": "datum.name == 'In'"}],
     "mark": {"type": "point", "shape": "M0,0L0.55,2.2L-0.55,2.2Z", "filled": true, "color": "black", "size": 64, "opacity": 1, "angle": 220},
     "encoding": {"x": {"field": "f2", "type": "quantitative"}, "y": {"field": "p2", "type": "quantitative"}}},
    {"data": {"name": "arrows"}, "transform": [{"filter": "datum.name == 'B'"}],
     "mark": {"type": "point", "shape": "M0,0L0.55,2.2L-0.55,2.2Z", "filled": true, "color": "black", "size": 64, "opacity": 1, "angle": 43},
     "encoding": {"x": {"field": "f2", "type": "quantitative"}, "y": {"field": "p2", "type": "quantitative"}}},
    {"data": {"values": [{"f": 377, "p": 1.41e-20, "t": "Halo nMOSFETs"}]},
     "mark": {"type": "text", "font": "Liberation Sans", "fontSize": 23, "fontWeight": "bold", "fontStyle": "italic", "align": "center", "baseline": "middle", "color": "black"},
     "encoding": {"text": {"field": "t"}}},
    {"data": {"values": [{"f": 13.8, "p": 3.98e-24, "t": "L/W=0.09/1.2 μm"}, {"f": 13.4, "p": 1.73e-24, "t": "without post annealing"}]},
     "mark": {"type": "text", "font": "Liberation Sans", "fontSize": 21, "fontWeight": "bold", "fontStyle": "italic", "align": "left", "baseline": "middle", "color": "black"},
     "encoding": {"text": {"field": "t"}}},
    {"data": {"values": [{"f": 3945, "p": 3.55e-22, "t": "In"}, {"f": 1145, "p": 1.19e-24, "t": "B"}]},
     "mark": {"type": "text", "font": "Liberation Sans", "fontSize": 28, "fontWeight": "bold", "fontStyle": "italic", "align": "center", "baseline": "middle", "color": "black"},
     "encoding": {"text": {"field": "t"}}}
  ]
}
